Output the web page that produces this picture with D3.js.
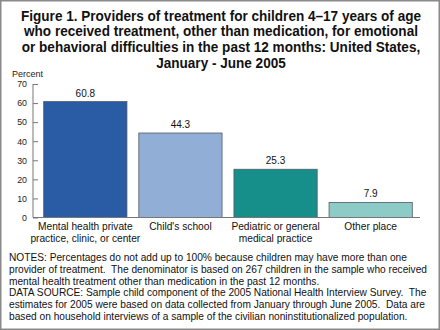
<!DOCTYPE html>
<html>
<head>
<meta charset="utf-8">
<script src="https://cdn.jsdelivr.net/npm/d3@7"></script>
<style>
  html, body { margin: 0; padding: 0; background: #fff; }
  svg { display: block; font-family: "Liberation Sans", Arial, Helvetica, sans-serif; }
  text { white-space: pre; }
</style>
</head>
<body>
<svg id="chart" width="440" height="330"></svg>
<script>
// Providers of treatment (percent of children receiving non-medication treatment)
const categories = [
  ["Mental health private", "practice, clinic, or center"],
  ["Child's school"],
  ["Pediatric or general", "medical practice"],
  ["Other place"]
];
const values = [60.8, 44.3, 25.3, 7.9];
const barColors = ["#2a5ca6", "#91aed6", "#168e89", "#8dcbc6"];
const yTicks = [0, 10, 20, 30, 40, 50, 60, 70];
const titleLines = [
  "Figure 1. Providers of treatment for children 4\u201317 years of age",
  "who received treatment, other than medication, for emotional",
  "or behavioral difficulties in the past 12 months: United States,",
  "January - June 2005"
];
const noteLines = [
  "NOTES: Percentages do not add up to 100% because children may have more than one",
  "provider of treatment.  The denominator is based on 267 children in the sample who received",
  "mental health treatment other than medication in the past 12 months.",
  "DATA SOURCE: Sample child component of the 2005 National Health Interview Survey.  The",
  "estimates for 2005 were based on data collected from January through June 2005.  Data are",
  "based on household interviews of a sample of the civilian noninstitutionalized population."
];

const svg = d3.select("#chart");
const W = 440, H = 330;

// squeeze a block of text lines horizontally so its widest line spans maxWidth
function fitBlock(sel, maxWidth) {
  const widths = [];
  sel.each(function () { widths.push(this.getComputedTextLength()); });
  const k = Math.min(1, maxWidth / d3.max(widths));
  if (k < 1) {
    sel.attr("textLength", (d, i) => widths[i] * k)
       .attr("lengthAdjust", "spacingAndGlyphs");
  }
}

// outer frame
svg.append("rect")
  .attr("x", 0.75).attr("y", 0.75)
  .attr("width", W - 1.5).attr("height", H - 1.5)
  .attr("fill", "#fff").attr("stroke", "#8a8a8a").attr("stroke-width", 1.5);

// title
const title = svg.append("g").selectAll("text")
  .data(titleLines).join("text")
  .attr("x", 221)
  .attr("y", (d, i) => 20.5 + i * 15.8)
  .attr("text-anchor", "middle")
  .attr("font-size", 14)
  .attr("font-weight", "bold")
  .attr("fill", "#111")
  .text(d => d);
fitBlock(title, 400);

const axisX = 33;
const x = d3.scaleBand()
  .domain(d3.range(values.length))
  .range([38, 418])
  .paddingInner(0.125)
  .paddingOuter(0.06);

const y = d3.scaleLinear().domain([0, 70]).range([217.5, 84]);

// y axis: ticks pointing into the plot
const yAxis = d3.axisRight(y).tickValues(yTicks).tickSize(5).tickFormat(d3.format("d"));
const gy = svg.append("g").attr("transform", `translate(${axisX},0)`).call(yAxis);
gy.select(".domain").attr("stroke", "#777").attr("d", `M0,${y(70)}V${y(0)}`);
gy.selectAll(".tick line").attr("stroke", "#777");
gy.selectAll(".tick text")
  .attr("x", -6).attr("text-anchor", "end")
  .attr("font-size", 8.8).attr("fill", "#222")
  .attr("font-family", "Liberation Sans, Arial, sans-serif");

svg.append("text")
  .attr("x", 12).attr("y", 76.5)
  .attr("font-size", 9).attr("fill", "#222")
  .text("Percent");

// bars
svg.append("g").selectAll("rect")
  .data(values).join("rect")
  .attr("x", (d, i) => x(i))
  .attr("y", d => y(d))
  .attr("width", x.bandwidth())
  .attr("height", d => y(0) - y(d))
  .attr("fill", (d, i) => barColors[i])
  .attr("stroke", "#505a66")
  .attr("stroke-width", 0.8);

// x baseline
svg.append("line")
  .attr("x1", axisX).attr("x2", 420)
  .attr("y1", y(0)).attr("y2", y(0))
  .attr("stroke", "#777").attr("stroke-width", 1);

// value labels
svg.append("g").selectAll("text")
  .data(values).join("text")
  .attr("x", (d, i) => x(i) + x.bandwidth() / 2)
  .attr("y", d => y(d) - 5)
  .attr("text-anchor", "middle")
  .attr("font-size", 10).attr("fill", "#111")
  .text(d => d3.format(".1f")(d));

// category labels
const cat = svg.append("g").selectAll("text")
  .data(categories).join("text")
  .attr("text-anchor", "middle")
  .attr("font-size", 10.2).attr("fill", "#111");
cat.selectAll("tspan")
  .data((d, i) => d.map(s => ({ s, i })))
  .join("tspan")
  .attr("x", d => x(d.i) + x.bandwidth() / 2)
  .attr("y", (d, j) => 230 + j * 11.5)
  .text(d => d.s);

// notes
const notes = svg.append("g").selectAll("text")
  .data(noteLines).join("text")
  .attr("x", 9)
  .attr("y", (d, i) => 261 + i * 11.8)
  .attr("font-size", 10.3).attr("fill", "#111")
  .text(d => d);
fitBlock(notes, 418);
</script>
</body>
</html>
